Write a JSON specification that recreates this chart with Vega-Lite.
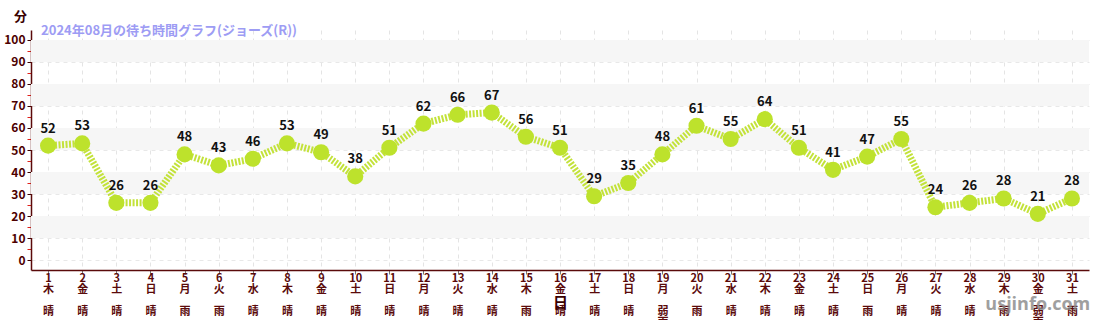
{
  "$schema": "https://vega.github.io/schema/vega-lite/v6.json",
  "width": 1058,
  "height": 240,
  "autosize": "none",
  "padding": {"left": 31, "top": 30, "right": 11, "bottom": 50},
  "background": "white",
  "config": {"font": "Noto Sans CJK JP", "view": {"stroke": null}},
  "datasets": {
    "waits": [
      {"day": 1, "xl": "1|木|\u200b|晴", "wait": 52},
      {"day": 2, "xl": "2|金|\u200b|晴", "wait": 53},
      {"day": 3, "xl": "3|土|\u200b|晴", "wait": 26},
      {"day": 4, "xl": "4|日|\u200b|晴", "wait": 26},
      {"day": 5, "xl": "5|月|\u200b|雨", "wait": 48},
      {"day": 6, "xl": "6|火|\u200b|雨", "wait": 43},
      {"day": 7, "xl": "7|水|\u200b|晴", "wait": 46},
      {"day": 8, "xl": "8|木|\u200b|晴", "wait": 53},
      {"day": 9, "xl": "9|金|\u200b|晴", "wait": 49},
      {"day": 10, "xl": "10|土|\u200b|晴", "wait": 38},
      {"day": 11, "xl": "11|日|\u200b|晴", "wait": 51},
      {"day": 12, "xl": "12|月|\u200b|晴", "wait": 62},
      {"day": 13, "xl": "13|火|\u200b|晴", "wait": 66},
      {"day": 14, "xl": "14|水|\u200b|晴", "wait": 67},
      {"day": 15, "xl": "15|木|\u200b|雨", "wait": 56},
      {"day": 16, "xl": "16|金|\u200b|晴", "wait": 51},
      {"day": 17, "xl": "17|土|\u200b|晴", "wait": 29},
      {"day": 18, "xl": "18|日|\u200b|晴", "wait": 35},
      {"day": 19, "xl": "19|月|\u200b|弱|雨", "wait": 48},
      {"day": 20, "xl": "20|火|\u200b|雨", "wait": 61},
      {"day": 21, "xl": "21|水|\u200b|晴", "wait": 55},
      {"day": 22, "xl": "22|木|\u200b|晴", "wait": 64},
      {"day": 23, "xl": "23|金|\u200b|晴", "wait": 51},
      {"day": 24, "xl": "24|土|\u200b|晴", "wait": 41},
      {"day": 25, "xl": "25|日|\u200b|雨", "wait": 47},
      {"day": 26, "xl": "26|月|\u200b|晴", "wait": 55},
      {"day": 27, "xl": "27|火|\u200b|晴", "wait": 24},
      {"day": 28, "xl": "28|水|\u200b|晴", "wait": 26},
      {"day": 29, "xl": "29|木|\u200b|雨", "wait": 28},
      {"day": 30, "xl": "30|金|\u200b|弱|雨", "wait": 21},
      {"day": 31, "xl": "31|土|\u200b|雨", "wait": 28}
    ],
    "bands": [
      {"lo": 90, "hi": 100},
      {"lo": 70, "hi": 80},
      {"lo": 50, "hi": 60},
      {"lo": 30, "hi": 40},
      {"lo": 10, "hi": 20}
    ],
    "notes": [
      {"kind": "title", "text": "2024年08月の待ち時間グラフ(ジョーズ(R))"},
      {"kind": "mark", "text": "usjinfo.com"}
    ]
  },
  "layer": [
    {
      "data": {"name": "bands"},
      "mark": {"type": "rect", "color": "#f6f6f6"},
      "encoding": {
        "y": {"field": "lo", "type": "quantitative", "scale": {"domain": [-4.5, 104.5], "nice": false, "zero": false},
          "axis": {"title": "分", "titleAngle": 0, "titleX": -11, "titleY": -14, "titleFontSize": 13, "titleFontWeight": "bold", "titleColor": "#3a0000", "titleBaseline": "middle", "titleAlign": "center",
            "tickCount": 22, "labelOverlap": false,
            "labelExpr": "datum.value % 10 == 0 ? datum.label : ''",
            "labelFontSize": 12, "labelFontWeight": "bold", "labelColor": "#4d0000", "labelPadding": 2,
            "domainColor": "#5a0a0a", "domainWidth": 1.5,
            "tickColor": {"condition": {"test": "datum.value % 10 != 0", "value": "#e0201a"}, "value": "#3a0000"},
            "tickSize": 4,
            "grid": true, "gridDash": [4, 4],
            "gridColor": {"condition": {"test": "datum.value % 10 != 0", "value": "transparent"}, "value": "#e8e8e8"}}},
        "y2": {"field": "hi"}
      }
    },
    {
      "data": {"name": "waits"},
      "encoding": {
        "x": {"field": "xl", "type": "ordinal", "sort": null, "scale": {"type": "point", "padding": 0.5},
          "axis": {"title": "日", "titleFontSize": 15, "titleFontWeight": "bold", "titleColor": "#3a0000", "titleY": 32, "titleBaseline": "middle",
            "labelExpr": "split(datum.value, '|')", "labelAngle": 0, "labelBaseline": "top", "labelLineHeight": 11, "labelFontSize": 11, "labelFontWeight": "bold", "labelColor": "#5a0a0a", "labelPadding": -2,
            "domainColor": "#5a0a0a", "domainWidth": 1.5, "tickColor": "#777", "tickSize": 4,
            "grid": true, "gridColor": "#e4e4e4", "gridDash": [4, 4], "labelOverlap": false}
        },
        "y": {"field": "wait", "type": "quantitative", "scale": {"domain": [-4.5, 104.5], "nice": false, "zero": false},
          "axis": {"title": "分", "titleAngle": 0, "titleX": -11, "titleY": -14, "titleFontSize": 13, "titleFontWeight": "bold", "titleColor": "#3a0000", "titleBaseline": "middle", "titleAlign": "center",
            "tickCount": 22, "labelOverlap": false,
            "labelExpr": "datum.value % 10 == 0 ? datum.label : ''",
            "labelFontSize": 12, "labelFontWeight": "bold", "labelColor": "#4d0000", "labelPadding": 2,
            "domainColor": "#5a0a0a", "domainWidth": 1.5,
            "tickColor": {"condition": {"test": "datum.value % 10 != 0", "value": "#e0201a"}, "value": "#3a0000"},
            "tickSize": 4,
            "grid": true, "gridDash": [4, 4],
            "gridColor": {"condition": {"test": "datum.value % 10 != 0", "value": "transparent"}, "value": "#e8e8e8"}}
        }
      },
      "layer": [
        {"mark": {"type": "line", "color": "#c3e23a", "strokeWidth": 7, "strokeDash": [2, 1.5]}},
        {"mark": {"type": "point", "filled": true, "opacity": 1, "color": "#bde22c", "size": 260}},
        {"mark": {"type": "text", "dy": -17, "fontSize": 13, "fontWeight": "bold", "color": "#111"}, "encoding": {"text": {"field": "wait", "type": "quantitative"}}}
      ]
    },
    {
      "data": {"name": "notes"},
      "transform": [{"filter": "datum.kind == 'title'"}],
      "mark": {"type": "text", "align": "left", "baseline": "middle", "dx": -7, "fontSize": 13, "fontWeight": "bold", "color": "#9d9cf4", "clip": false},
      "encoding": {"text": {"field": "text"}, "x": {"datum": "1|木|\u200b|晴"}, "y": {"datum": 104}}
    },
    {
      "data": {"name": "notes"},
      "transform": [{"filter": "datum.kind == 'mark'"}],
      "mark": {"type": "text", "align": "center", "baseline": "middle", "fontSize": 18, "color": "#888", "opacity": 0.8, "fontWeight": "bold", "clip": false, "font": "Open Sans"},
      "encoding": {"text": {"field": "text"}, "x": {"datum": "30|金|\u200b|弱|雨"}, "y": {"datum": -20.5}}
    }
  ]
}
